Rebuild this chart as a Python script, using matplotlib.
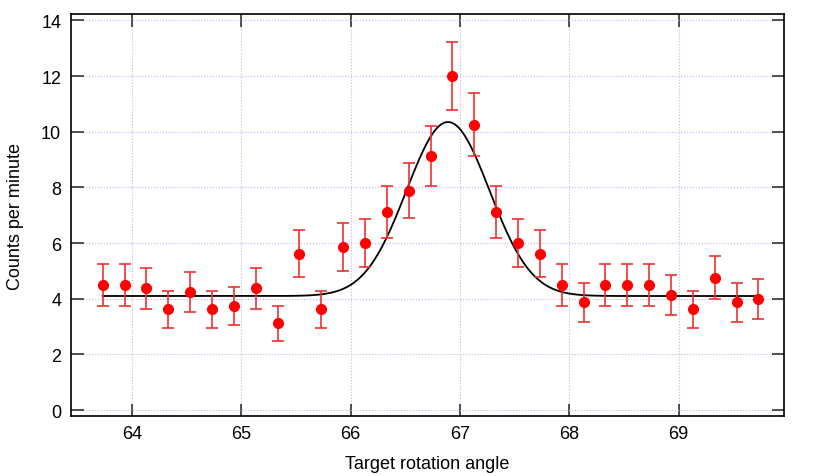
import numpy as np
import matplotlib.pyplot as plt

# measured points (counts per minute) and their error bars
angle = [63.73, 63.93, 64.13, 64.33, 64.53, 64.73, 64.93, 65.13, 65.33, 65.53,
         65.73, 65.93, 66.13, 66.33, 66.53, 66.73, 66.93, 67.13, 67.33, 67.53,
         67.73, 67.93, 68.13, 68.33, 68.53, 68.73, 68.93, 69.13, 69.33, 69.53,
         69.73]
rate = [4.5, 4.5, 4.375, 3.625, 4.25, 3.625, 3.75, 4.375, 3.125, 5.625,
        3.625, 5.875, 6.0, 7.125, 7.875, 9.125, 12.0, 10.25, 7.125, 6.0,
        5.625, 4.5, 3.875, 4.5, 4.5, 4.5, 4.125, 3.625, 4.75, 3.875,
        4.0]
err = [0.75, 0.75, 0.74, 0.67, 0.73, 0.67, 0.68, 0.74, 0.63, 0.84,
       0.67, 0.86, 0.87, 0.94, 0.99, 1.07, 1.22, 1.13, 0.94, 0.87,
       0.84, 0.75, 0.70, 0.75, 0.75, 0.75, 0.72, 0.67, 0.77, 0.70,
       0.71]

# fitted gaussian on a flat background
base, amp, mu, sigma = 4.1, 6.25, 66.89, 0.38

xs = np.linspace(angle[0], angle[-1], 400)
fit = base + amp * np.exp(-0.5 * ((xs - mu) / sigma) ** 2)

plt.rcParams['font.family'] = ['Liberation Sans', 'DejaVu Sans']

fig = plt.figure(figsize=(8.3, 4.77), dpi=100)
ax = fig.add_axes([0.0855, 0.1264, 0.8585, 0.8415])

ax.grid(True, color='#b8b8f0', linestyle=':', linewidth=0.8)
ax.set_axisbelow(True)

ax.plot(xs, fit, color='black', linewidth=1.3, zorder=2)
ax.errorbar(angle, rate, yerr=err, fmt='o', color='#ff0000', ecolor='#f03030',
            markersize=7, capsize=4, elinewidth=1.2, capthick=1.2, zorder=3)

ax.set_xlim(63.44, 69.96)
ax.set_ylim(-0.2, 14.22)
ax.set_xticks([64, 65, 66, 67, 68, 69])
ax.set_yticks([0, 2, 4, 6, 8, 10, 12, 14])
ax.tick_params(direction='in', length=9, width=1.2, top=True, right=True,
               labelsize=13, colors='#333333', labelcolor='black', pad=7)
for s in ax.spines.values():
    s.set_linewidth(1.2)

ax.set_xlabel('Target rotation angle', fontsize=13, labelpad=9)
ax.set_ylabel('Counts per minute', fontsize=13, labelpad=12)

fig.savefig('out.png', dpi=100)
